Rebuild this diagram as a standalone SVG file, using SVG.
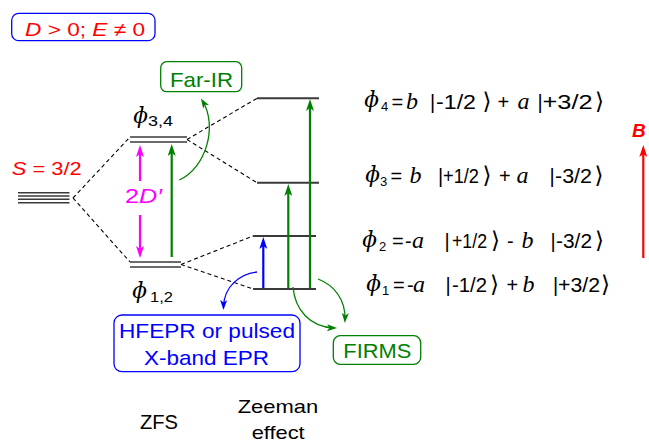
<svg xmlns="http://www.w3.org/2000/svg" width="649" height="442" viewBox="0 0 649 442">
<style>
text{font-family:"Liberation Sans",Arial,sans-serif}
.lvl{stroke:#3a3a3a;stroke-width:1.5;fill:none}
.zl{stroke:#3a3a3a;stroke-width:2;fill:none}
.dash{stroke:#000;stroke-width:1.1;stroke-dasharray:4 3;fill:none}
.box{fill:#fff;stroke-width:1.3}
.arr{fill:none;stroke-width:2.2}
.crv{fill:none;stroke-width:1.3}
.eq{font-size:20px;fill:#000}
.it{font-family:"Liberation Serif","DejaVu Serif",serif;font-style:italic;font-size:24px}
.phi{font-family:"DejaVu Serif","Liberation Serif",serif;font-style:italic;font-size:22px}
.sub{font-size:13px}
.ket{font-family:"DejaVu Sans",sans-serif;font-size:23px}
</style>
<defs>
<marker id="ahG" viewBox="0 0 12 8" refX="6" refY="4" markerWidth="12" markerHeight="8" markerUnits="userSpaceOnUse" orient="auto"><path d="M0,0 L12,4 L0,8 L3,4Z" fill="#008000"/></marker>
<marker id="ahB" viewBox="0 0 12 8" refX="6" refY="4" markerWidth="12" markerHeight="8" markerUnits="userSpaceOnUse" orient="auto"><path d="M0,0 L12,4 L0,8 L3,4Z" fill="#0000ff"/></marker>
<marker id="ahM" viewBox="0 0 12 8" refX="6" refY="4" markerWidth="12" markerHeight="8" markerUnits="userSpaceOnUse" orient="auto"><path d="M0,0 L12,4 L0,8 L3,4Z" fill="#ff00ff"/></marker>
<marker id="ahR" viewBox="0 0 12 8" refX="6" refY="4" markerWidth="12" markerHeight="8" markerUnits="userSpaceOnUse" orient="auto"><path d="M0,0 L12,4 L0,8 L3,4Z" fill="#ff0000"/></marker>
<marker id="ahGs" viewBox="0 0 10 7" refX="7" refY="3.5" markerWidth="10" markerHeight="7" markerUnits="userSpaceOnUse" orient="auto"><path d="M0,0 L10,3.5 L0,7 L2.5,3.5Z" fill="#008000"/></marker>
<marker id="ahBs" viewBox="0 0 10 7" refX="7" refY="3.5" markerWidth="10" markerHeight="7" markerUnits="userSpaceOnUse" orient="auto"><path d="M0,0 L10,3.5 L0,7 L2.5,3.5Z" fill="#0000ff"/></marker>
</defs>

<g id="condition">
<rect class="box" x="11.7" y="13.3" width="143.3" height="27.4" rx="7" stroke="#0000ff"/>
<text x="25" y="36" font-size="19" fill="#ff0000" textLength="120" lengthAdjust="spacingAndGlyphs"><tspan font-style="italic">D</tspan> &gt; 0; <tspan font-style="italic">E</tspan> ≠ 0</text>
</g>

<g id="S32">
<text x="11.7" y="175" font-size="19" fill="#ff0000" textLength="70" lengthAdjust="spacingAndGlyphs"><tspan font-style="italic">S</tspan> = 3/2</text>
<line class="lvl" x1="18" y1="192.7" x2="69.5" y2="192.7"/>
<line class="lvl" x1="18" y1="196" x2="69.5" y2="196"/>
<line class="lvl" x1="18" y1="199.3" x2="69.5" y2="199.3"/>
<line class="lvl" x1="18" y1="202.7" x2="69.5" y2="202.7"/>
</g>

<g id="phi34">
<line class="lvl" x1="130" y1="137" x2="187" y2="137"/>
<line class="lvl" x1="130" y1="142" x2="187" y2="142"/>
<text class="phi" x="133" y="123" font-size="24">ɸ</text>
<text x="148" y="126" font-size="15.5" textLength="25" lengthAdjust="spacingAndGlyphs">3,4</text>
</g>

<g id="phi12">
<line class="lvl" x1="130" y1="262" x2="181" y2="262"/>
<line class="lvl" x1="130" y1="267" x2="181" y2="267"/>
<text class="phi" x="132" y="298" font-size="24">ɸ</text>
<text x="150" y="301.7" font-size="15.5" textLength="23" lengthAdjust="spacingAndGlyphs">1,2</text>
</g>

<g id="z4"><line class="zl" x1="257" y1="98.3" x2="319" y2="98.3"/></g>
<g id="z3"><line class="zl" x1="257" y1="182.7" x2="319" y2="182.7"/></g>
<g id="z2"><line class="zl" x1="253" y1="236" x2="316" y2="236"/></g>
<g id="z1"><line class="zl" x1="253" y1="289" x2="316" y2="289"/></g>

<g id="label2D">
<text x="125" y="203" font-size="20" fill="#ff00ff" textLength="37" lengthAdjust="spacingAndGlyphs">2<tspan font-style="italic">D′</tspan></text>
</g>

<g id="farIR">
<rect class="box" x="160.7" y="61.7" width="81" height="30" rx="6" stroke="#008000"/>
<text x="170" y="86.5" font-size="21" fill="#008000" textLength="63" lengthAdjust="spacingAndGlyphs">Far-IR</text>
</g>

<g id="hfepr">
<rect class="box" x="114" y="315" width="186" height="56.7" rx="8" stroke="#0000ff"/>
<text x="119" y="338" font-size="21" fill="#0000ff" textLength="176" lengthAdjust="spacingAndGlyphs">HFEPR or pulsed</text>
<text x="144" y="365" font-size="21" fill="#0000ff" textLength="125" lengthAdjust="spacingAndGlyphs">X-band EPR</text>
</g>

<g id="firms">
<rect class="box" x="333.3" y="335.7" width="87.4" height="28.6" rx="7" stroke="#008000"/>
<text x="343.3" y="358.3" font-size="21" fill="#008000" textLength="68" lengthAdjust="spacingAndGlyphs">FIRMS</text>
</g>

<g id="axisLabels">
<text x="140" y="429" font-size="19.5" textLength="38" lengthAdjust="spacingAndGlyphs">ZFS</text>
<text x="237.7" y="413" font-size="18.6" textLength="80.6" lengthAdjust="spacingAndGlyphs">Zeeman</text>
<text x="251.7" y="439" font-size="18.6" textLength="53" lengthAdjust="spacingAndGlyphs">effect</text>
</g>

<g id="fieldB">
<text x="632" y="137" font-size="19" font-weight="bold" font-style="italic" fill="#ff0000">B</text>
</g>

<g id="eq4" class="eq">
<text class="phi" x="364" y="107">ɸ</text><text class="sub" x="381" y="111">4</text>
<text x="391.5" y="108.5">=</text><text class="it" x="406" y="108.5">b</text>
<text x="430" y="108.5">|</text><text x="436" y="108.5" textLength="40" lengthAdjust="spacingAndGlyphs">-1/2</text><text class="ket" x="482.5" y="108.5">⟩</text>
<text x="497.5" y="108.5">+</text><text class="it" x="517.5" y="108.5">a</text>
<text x="537.5" y="108.5">|</text><text x="542.5" y="108.5" textLength="50" lengthAdjust="spacingAndGlyphs">+3/2</text><text class="ket" x="595" y="108.5">⟩</text>
</g>

<g id="eq3" class="eq">
<text class="phi" x="365" y="182">ɸ</text><text class="sub" x="380" y="186">3</text>
<text x="390.5" y="183.3">=</text><text class="it" x="409.5" y="183.3">b</text>
<text x="438" y="183.3">|</text><text x="443" y="183.3" textLength="36" lengthAdjust="spacingAndGlyphs">+1/2</text><text class="ket" x="482.5" y="183.3">⟩</text>
<text x="499" y="183.3">+</text><text class="it" x="516.5" y="183.3">a</text>
<text x="549.5" y="183.3">|</text><text x="555" y="183.3" textLength="37" lengthAdjust="spacingAndGlyphs">-3/2</text><text class="ket" x="594.5" y="183.3">⟩</text>
</g>

<g id="eq2" class="eq">
<text class="phi" x="362" y="246.5">ɸ</text><text class="sub" x="379" y="250.5">2</text>
<text x="392" y="247.7">=</text><text x="405" y="247.7">-</text><text class="it" x="412" y="247.7">a</text>
<text x="444.5" y="247.7">|</text><text x="452" y="247.7" textLength="35" lengthAdjust="spacingAndGlyphs">+1/2</text><text class="ket" x="491" y="247.7">⟩</text>
<text x="507" y="247.7">-</text><text class="it" x="521.5" y="247.7">b</text>
<text x="550.5" y="247.7">|</text><text x="556" y="247.7" textLength="36" lengthAdjust="spacingAndGlyphs">-3/2</text><text class="ket" x="595" y="247.7">⟩</text>
</g>

<g id="eq1" class="eq">
<text class="phi" x="366" y="290.5">ɸ</text><text class="sub" x="382" y="294.5">1</text>
<text x="393" y="291.7">=</text><text x="407" y="291.7">-</text><text class="it" x="413" y="291.7">a</text>
<text x="445.5" y="291.7">|</text><text x="452" y="291.7" textLength="35" lengthAdjust="spacingAndGlyphs">-1/2</text><text class="ket" x="490" y="291.7">⟩</text>
<text x="506.5" y="291.7">+</text><text class="it" x="522.5" y="291.7">b</text>
<text x="553" y="291.7">|</text><text x="558" y="291.7" textLength="42" lengthAdjust="spacingAndGlyphs">+3/2</text><text class="ket" x="601" y="291.7">⟩</text>
</g>

<g id="connectors">
<line class="dash" x1="73" y1="198" x2="130" y2="137"/>
<line class="dash" x1="73" y1="198" x2="130" y2="262"/>
<line class="dash" x1="187" y1="139.5" x2="257" y2="98.3"/>
<line class="dash" x1="187" y1="139.5" x2="257" y2="182.7"/>
<line class="dash" x1="181" y1="264.5" x2="253" y2="236"/>
<line class="dash" x1="181" y1="264.5" x2="253" y2="289"/>

<line class="arr" stroke="#ff00ff" x1="140" y1="181" x2="140" y2="151" marker-end="url(#ahM)"/>
<line class="arr" stroke="#ff00ff" x1="140" y1="215" x2="140" y2="252" marker-end="url(#ahM)"/>
<line class="arr" stroke="#008000" x1="171.7" y1="257" x2="171.7" y2="150" marker-end="url(#ahG)"/>
<line class="arr" stroke="#0000ff" x1="263.3" y1="288" x2="263.3" y2="243" marker-end="url(#ahB)"/>
<line class="arr" stroke="#008000" x1="288.3" y1="288" x2="288.3" y2="190" marker-end="url(#ahG)"/>
<line class="arr" stroke="#008000" x1="310" y1="288" x2="310" y2="105" marker-end="url(#ahG)"/>
<line class="arr" stroke="#ff0000" x1="643.3" y1="258" x2="643.3" y2="151" marker-end="url(#ahR)"/>

<path class="crv" stroke="#008000" d="M179.3,180 C206,168 218,126 202.5,101" marker-end="url(#ahGs)"/>
<path class="crv" stroke="#0000ff" d="M257,272 C240,274 224,286 223.5,307" marker-end="url(#ahBs)"/>
<path class="crv" stroke="#008000" d="M318,279 C334,285 346,300 345,320" marker-end="url(#ahGs)"/>
<path class="crv" stroke="#008000" d="M293,287 C295,310 310,327 334,328" marker-end="url(#ahGs)"/>
</g>
</svg>
